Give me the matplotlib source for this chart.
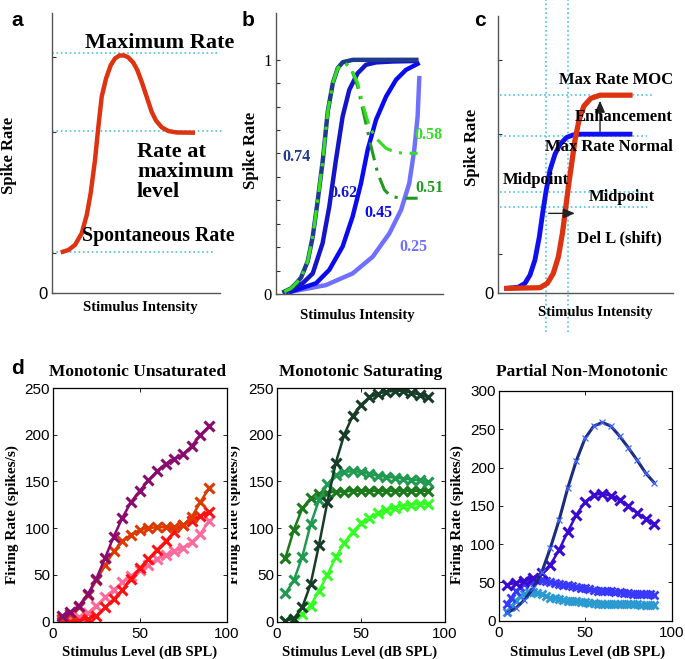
import numpy as np
import matplotlib
matplotlib.use('Agg')
import matplotlib.pyplot as plt
from matplotlib.transforms import Bbox, TransformedBbox

W, H = 685, 659
SERIF = 'Liberation Serif'
SANS = 'Liberation Sans'
DOT = '#4cc3dc'

# ---- panel a : schematic non-monotonic rate-level function
a_x = [5.2, 9.7, 13.7, 17.7, 20.7, 23.0, 25.6, 27.6, 29.6, 32.2, 35.0, 37.5, 40.1, 42.9, 45.4,
       48.4, 50.8, 53.4, 56.3, 59.3, 61.9, 65.3, 69.3, 74.2, 85.1]
a_y = [0.174, 0.184, 0.206, 0.256, 0.335, 0.427, 0.570, 0.713, 0.842, 0.920, 0.977, 1.005, 1.018,
       1.018, 1.010, 0.987, 0.955, 0.905, 0.842, 0.777, 0.739, 0.710, 0.694, 0.688, 0.687]
a_levels = [1.03, 0.695, 0.176]
a_level_end = [98.8, 101.8, 95.8]
a_ticks = [0.17, 0.69, 1.01]

# ---- panel b : saturating curves (labels = fit values)
b_x074 = [5.0, 9.0, 12.0, 15.0, 19.0, 22.0, 25.0, 28.0, 31.0, 34.0, 37.0, 40.0, 46.0, 84.0]
b_y074 = [0.01, 0.024, 0.045, 0.07, 0.14, 0.245, 0.40, 0.57, 0.78, 0.90, 0.965, 0.99, 1.0, 1.0]
b_x062 = [7.0, 16.0, 22.0, 27.9, 31.9, 35.9, 39.9, 43.9, 48.9, 53.9, 59.9, 69.9, 83.8]
b_y062 = [0.01, 0.046, 0.088, 0.217, 0.373, 0.573, 0.758, 0.872, 0.943, 0.979, 0.989, 0.993, 0.995]
b_x045 = [9.0, 24.0, 31.9, 39.9, 45.9, 50.9, 54.9, 59.9, 65.9, 71.9, 77.8, 84.8]
b_y045 = [0.01, 0.046, 0.103, 0.203, 0.331, 0.473, 0.616, 0.744, 0.843, 0.915, 0.957, 0.983]
b_x025 = [9.0, 29.9, 45.9, 57.9, 67.9, 74.9, 79.8, 82.8, 84.8, 85.8]
b_y025 = [0.01, 0.038, 0.088, 0.159, 0.259, 0.359, 0.473, 0.616, 0.758, 0.922]
b_x058 = [5.0, 9.0, 12.0, 15.0, 19.0, 22.0, 25.0, 28.0, 31.0, 34.0, 37.0, 40.9, 44.9, 48.9, 52.3,
          55.9, 59.9, 65.9, 71.9, 77.8, 84.8]
b_y058 = [0.01, 0.024, 0.045, 0.07, 0.14, 0.245, 0.40, 0.57, 0.78, 0.90, 0.965, 0.989, 0.965, 0.901,
          0.801, 0.715, 0.665, 0.622, 0.604, 0.601, 0.601]
b_x051 = [5.0, 9.0, 12.0, 15.0, 19.0, 22.0, 25.0, 28.0, 31.0, 34.0, 37.0, 40.9, 44.9, 48.9, 52.9,
          56.9, 60.9, 64.9, 68.9, 75.8, 84.8]
b_y051 = [0.01, 0.024, 0.045, 0.07, 0.14, 0.245, 0.40, 0.57, 0.78, 0.90, 0.965, 0.989, 0.965, 0.886,
          0.758, 0.630, 0.516, 0.445, 0.416, 0.409, 0.409]
b_labels = ['0.74', '0.62', '0.45', '0.25', '0.58', '0.51']
b_label_pos = [(12.4, 0.587), (40.3, 0.43), (61.3, 0.345), (82.2, 0.202), (91.2, 0.68), (92.2, 0.452)]
b_colors = ['#1f3a8f', '#1414c8', '#0a0af0', '#7070ff', '#33dd22', '#1f9a1f']

# ---- panel c : MOC effect schematic
c_xn = [5.0, 11.6, 15.4, 18.3, 21.1, 23.6, 25.5, 27.4, 29.7, 32.6, 35.4, 39.2, 43.0, 46.9, 75.4]
c_yn = [0.020, 0.025, 0.042, 0.078, 0.143, 0.243, 0.345, 0.439, 0.532, 0.602, 0.644, 0.674, 0.685,
        0.688, 0.688]
c_xm = [5.0, 24.0, 28.2, 31.6, 34.5, 36.8, 38.3, 40.2, 42.1, 44.0, 46.3, 49.1, 53.0, 58.3, 75.4]
c_ym = [0.020, 0.023, 0.042, 0.085, 0.157, 0.258, 0.345, 0.460, 0.561, 0.662, 0.749, 0.810, 0.843,
        0.857, 0.857]
c_hlev = [0.858, 0.680, 0.438, 0.373]
c_hend = [87.8, 85.0, 84.0, 85.0]
c_vlev = [27.4, 40.0]

# ---- panel d : measured rate-level functions
lev = [5, 10, 15, 20, 25, 30, 35, 40, 45, 50, 55, 60, 65, 70, 75, 80, 85, 90]
lev_fine = [5, 7.5, 10, 12.5, 15, 17.5, 20, 22.5, 25, 27.5, 30, 32.5, 35, 37.5, 40, 42.5, 45, 47.5,
            50, 52.5, 55, 57.5, 60, 62.5, 65, 67.5, 70, 72.5, 75, 77.5, 80, 82.5, 85, 87.5, 90]

d1_purple = [6, 10, 17, 29, 46, 68, 91, 111, 128, 140, 151, 161, 169, 174, 179, 188, 200, 209]
d1_orange = [3, 8, 16, 28, 44, 60, 75, 86, 93, 98, 100, 101, 101, 101, 103, 112, 128, 143]
d1_red = [0, 0, 1, 3, 6, 15, 24, 34, 46, 57, 67, 77, 86, 96, 103, 108, 113, 117]
d1_pink = [2, 3, 5, 9, 17, 26, 34, 42, 49, 55, 61, 67, 71, 75, 79, 85, 94, 108]

d2_dark = [1, 3, 15, 40, 82, 128, 170, 200, 220, 232, 240, 244, 246, 247, 247, 245, 243, 240]
d2_green = [68, 98, 121, 132, 136, 138, 139, 139, 140, 140, 140, 140, 140, 140, 140, 140, 140, 140]
d2_mid = [30, 44, 69, 104, 130, 147, 157, 160, 161, 160, 158, 156, 155, 154, 153, 152, 151, 149]
d2_bright = [1, 3, 8, 17, 33, 50, 69, 84, 96, 105, 111, 116, 119, 122, 124, 125, 126, 126]

d3_navy = [10, 16, 27, 42, 63, 95, 131, 173, 209, 238, 254, 259, 254, 241, 226, 210, 193, 180]
d3_purple = [47, 49, 52, 56, 62, 73, 92, 116, 138, 155, 164, 166, 163, 158, 150, 141, 133, 126]
d3_blue = [21, 30, 38, 44, 48, 51, 53, 53, 53, 52, 50, 49, 48, 47, 46, 45, 44, 43,
           42, 41, 40, 39, 39, 38, 38, 37, 37, 36, 36, 35, 35, 34, 34, 34, 33]
d3_cyan = [11, 19, 26, 32, 35, 37, 37, 36, 34, 32, 30, 29, 28, 27, 26, 25, 25, 24,
           24, 23, 23, 22, 22, 22, 22, 21, 21, 21, 21, 21, 21, 20, 20, 20, 20]


fig = plt.figure(figsize=(W / 100, H / 100), dpi=100)


def px_axes(l, t, r, b):
    return fig.add_axes([l / W, 1 - b / H, (r - l) / W, (b - t) / H])


def ftext(px, py, s, **kw):
    return fig.text(px / W, 1 - py / H, s, **kw)


def bold_serif(size):
    return dict(fontfamily=SERIF, fontweight='bold', fontsize=size)


def schematic_axes(ax, ticks, ticklabels):
    ax.set_xlim(0, 100)
    ax.set_ylim(0, 1.2)
    for s in ['top', 'right']:
        ax.spines[s].set_visible(False)
    for s in ['left', 'bottom']:
        ax.spines[s].set_color('#555555')
        ax.spines[s].set_linewidth(1.0)
    ax.set_xticks([])
    ax.set_yticks(ticks)
    ax.set_yticklabels(ticklabels)
    ax.tick_params(axis='y', direction='in', length=3, width=0.8, color='#333333',
                   labelsize=12, pad=3)


# ---------------- a
ax = px_axes(52, 13, 220, 293)
schematic_axes(ax, [0] + a_ticks, ['0', '', '', ''])
for l in ax.get_yticklabels():
    l.set_family(SANS)
for lv, xe in zip(a_levels, a_level_end):
    ax.plot([0, xe], [lv, lv], ls=':', color=DOT, lw=1.2, clip_on=False)
ax.plot(a_x, a_y, color='#dd3311', lw=3.2, solid_capstyle='butt')
ax.text(19.6, 1.07, 'Maximum Rate', ha='left', va='center', **bold_serif(16))
ax.text(50.6, 0.517, 'Rate at\nmaximum\nlevel', ha='left', va='center', linespacing=1.0,
        **bold_serif(16))
ax.text(17.9, 0.244, 'Spontaneous Rate', ha='left', va='center', **bold_serif(14.3))
ftext(9, 155, 'Spike Rate', rotation=90, ha='center', va='center', **bold_serif(12))
ftext(140, 308, 'Stimulus Intensity', ha='center', va='center', **bold_serif(10.5))
ftext(17, 20, 'a', ha='center', va='center', fontfamily=SANS, fontweight='bold', fontsize=15)

# ---------------- b
ax = px_axes(276, 13, 443, 294)
bt = np.round(np.arange(0, 1.01, 0.1), 1)
schematic_axes(ax, bt, ['0'] + [''] * 9 + ['1'])
for l in ax.get_yticklabels():
    l.set_family(SERIF)
ax.plot(b_x025, b_y025, color=b_colors[3], lw=3.2)
ax.plot(b_x045, b_y045, color=b_colors[2], lw=3.2)
ax.plot(b_x062, b_y062, color=b_colors[1], lw=3.2)
ax.plot(b_x074, b_y074, color=b_colors[0], lw=3.2)
ax.plot(b_x051, b_y051, color=b_colors[5], lw=2.2, ls=(0, (6, 2.5, 1, 2.5)))
ax.plot(b_x058, b_y058, color=b_colors[4], lw=2.2, ls=(0, (6, 2.5, 1, 2.5)))
for lab, (x, y), c in zip(b_labels, b_label_pos, b_colors):
    ax.text(x, y, lab, color=c, ha='center', va='center', **bold_serif(11.5))
ftext(251, 150, 'Spike Rate', rotation=90, ha='center', va='center', **bold_serif(12))
ftext(357, 315, 'Stimulus Intensity', ha='center', va='center', **bold_serif(10.5))
ftext(248, 20, 'b', ha='center', va='center', fontfamily=SANS, fontweight='bold', fontsize=15)

# ---------------- c
ax = px_axes(498, 16, 673, 293)
schematic_axes(ax, [0] + a_ticks, ['0', '', '', ''])
for l in ax.get_yticklabels():
    l.set_family(SANS)
for lv, xe in zip(c_hlev, c_hend):
    ax.plot([1, xe], [lv, lv], ls=':', color=DOT, lw=1.2, clip_on=False)
for xv in c_vlev:
    ax.plot([xv, xv], [-0.169, 1.27], ls=':', color=DOT, lw=1.2, clip_on=False)
ax.plot(c_xn, c_yn, color='#1010ee', lw=3.5)
ax.plot(c_xm, c_ym, color='#dd3311', lw=3.8)
ax.annotate('', xy=(58.3, 0.845), xytext=(58.3, 0.688),
            arrowprops=dict(arrowstyle='-|>,head_length=0.7,head_width=0.3', color='#222222', lw=1.0))
ax.annotate('', xy=(45.5, 0.345), xytext=(27.4, 0.345),
            arrowprops=dict(arrowstyle='-|>,head_length=0.7,head_width=0.3', color='#222222', lw=1.0))
ax.text(34.9, 0.923, 'Max Rate MOC', ha='left', va='center', **bold_serif(12))
ax.text(44.0, 0.764, 'Enhancement', ha='left', va='center', **bold_serif(12))
ax.text(26.9, 0.634, 'Max Rate Normal', ha='left', va='center', **bold_serif(12))
ax.text(2.9, 0.49, 'Midpoint', ha='left', va='center', **bold_serif(12))
ax.text(52.0, 0.416, 'Midpoint', ha='left', va='center', **bold_serif(12))
ax.text(45.1, 0.238, 'Del L (shift)', ha='left', va='center', **bold_serif(12))
ftext(472, 147, 'Spike Rate', rotation=90, ha='center', va='center', **bold_serif(12))
ftext(595, 313, 'Stimulus Intensity', ha='center', va='center', **bold_serif(10.5))
ftext(480, 20, 'c', ha='center', va='center', fontfamily=SANS, fontweight='bold', fontsize=15)


# ---------------- d
def d_axes(ax, ymax):
    ax.set_xlim(0, 100)
    ax.set_ylim(0, ymax)
    ax.set_xticks([0, 50, 100])
    ax.set_yticks(np.arange(0, ymax + 1, 50))
    ax.tick_params(direction='in', top=True, right=True, length=3, width=0.6, labelsize=11)
    ax.tick_params(axis='x', pad=4)
    ax.tick_params(axis='y', pad=2)
    for l in ax.get_xticklabels() + ax.get_yticklabels():
        l.set_family(SANS)
    for s in ax.spines.values():
        s.set_linewidth(0.9)


def thick(ax, x, y, c):
    ax.plot(x, y, color=c, lw=1.8, marker='x', ms=6.5, mew=2.2)


ax = px_axes(53, 388, 226.5, 621.5)
d_axes(ax, 250)
thick(ax, lev, d1_pink, '#ff6a9c')
thick(ax, lev, d1_red, '#ff1010')
thick(ax, lev, d1_orange, '#dd3a00')
thick(ax, lev, d1_purple, '#8b0a6e')

ax = px_axes(277, 388, 445, 621.5)
d_axes(ax, 250)
thick(ax, lev, d2_bright, '#33ff22')
thick(ax, lev, d2_green, '#1b7a1b')
thick(ax, lev, d2_mid, '#1f9a50')
thick(ax, lev, d2_dark, '#173d28')

ax = px_axes(498.5, 391, 671.5, 620.5)
d_axes(ax, 300)
ax.plot(lev_fine, d3_cyan, color='#2a9ad0', lw=1.8, marker='x', ms=5.5, mew=2.0)
ax.plot(lev_fine, d3_blue, color='#3838ff', lw=1.8, marker='x', ms=5.5, mew=2.0)
thick(ax, lev, d3_purple, '#3a0ad0')
ax.plot(lev, d3_navy, color='#1c2c80', lw=2.2)
ax.plot(lev, d3_navy, ls='none', marker='x', ms=5, mew=0.9, color='#4466ff')

for cx, title in [(138, 'Monotonic Unsaturated'), (361, 'Monotonic Saturating'),
                  (582, 'Partial Non-Monotonic')]:
    ftext(cx, 372, title, ha='center', va='center', **bold_serif(12.5))
for cx in [140, 360, 588]:
    ftext(cx, 652, 'Stimulus Level (dB SPL)', ha='center', va='center', **bold_serif(10.5))
ftext(12, 515, 'Firing Rate (spikes/s)', rotation=90, ha='center', va='center', **bold_serif(11))
# partly hidden y labels of the 2nd and 3rd panel
for cx, cut in [(234, 230.5), (457, 449)]:
    t = ftext(cx, 515, 'Firing Rate (spikes/s)', rotation=90, ha='center', va='center',
              **bold_serif(11))
    t.set_clip_box(TransformedBbox(Bbox.from_extents(cut / W, 0, (cut + 30) / W, 1),
                                   fig.transFigure))
    t.set_clip_on(True)
ftext(17, 368, 'd', ha='center', va='center', fontfamily=SANS, fontweight='bold', fontsize=15)

fig.savefig('out.png', dpi=100)
